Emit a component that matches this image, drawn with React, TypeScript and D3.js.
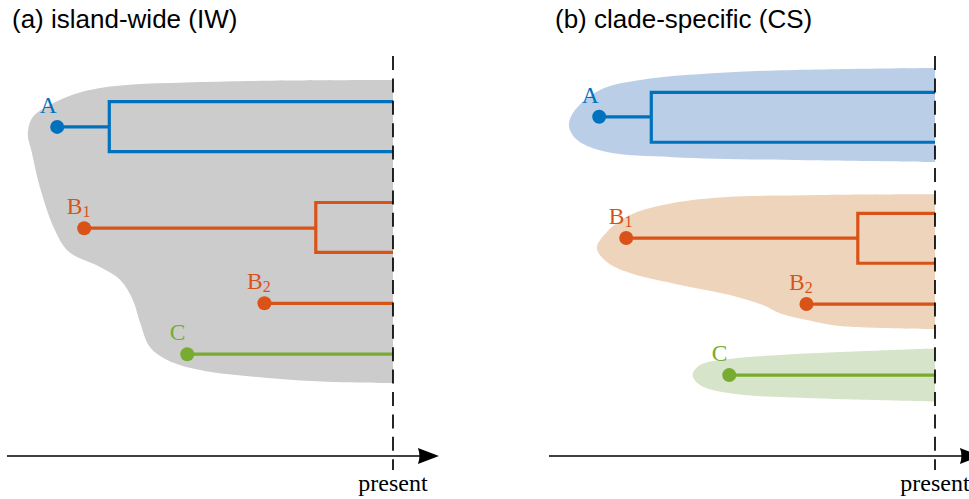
import React from 'react';
import * as d3 from 'd3';

// ---- data ----
const panelTitles = ['(a) island-wide (IW)', '(b) clade-specific (CS)'];
const presentLabel = 'present';

const lineageNames = ['A', 'B', 'B', 'C'];
const lineageSubs = ['', '1', '2', ''];
const lineageColors = ['#0072BD', '#D95319', '#D95319', '#77AC30'];
const colonisationAge = [8.7, 8.0, 3.33, 5.33];
const splitAge = [7.35, 2.0, NaN, NaN];

const stemLaneIW = [1, 5.02, 8.0, 10.02];
const tipLanesIW = [[0, 1.98], [4.0, 5.98], [], []];
const stemLaneCS = [0.6, 5.41, 8.03, 10.85];
const tipLanesCS = [[-0.37, 1.61], [4.43, 6.41], [], []];

// outlines as [age, lane]
const islandOutline: [number, number][] = [
  [0, -0.86], [5.0, -0.78], [7.59, -0.54], [8.63, -0.07], [9.33, 0.61], [9.46, 1.3],
  [9.36, 2.0], [9.15, 3.38], [8.76, 5.09], [8.4, 5.95], [7.59, 6.56],
  [7.07, 7.07], [6.74, 7.87], [6.55, 8.78], [6.3, 9.73], [5.85, 10.25], [5.0, 10.65],
  [3.26, 10.96], [1.55, 11.12], [0, 11.16],
];
const cladeOutlineA: [number, number][] = [
  [0, -1.34], [5.05, -1.19], [7.64, -0.86], [8.68, -0.46], [9.38, 0.45], [9.48, 1.0],
  [9.27, 1.52], [8.5, 2.0], [6.79, 2.2], [3.32, 2.32], [0, 2.39],
];
const cladeOutlineB: [number, number][] = [
  [0, 3.67], [2.98, 3.7], [5.75, 3.82], [7.05, 4.1], [7.9, 4.5], [8.5, 5.17], [8.76, 5.81],
  [8.5, 6.36], [7.9, 6.8], [6.61, 7.27], [5.31, 7.67], [4.46, 8.07], [4.02, 8.39],
  [3.32, 8.66], [2.46, 8.9], [0, 9.02],
];
const cladeOutlineC: [number, number][] = [
  [0, 9.79], [2.28, 9.92], [4.02, 10.05], [5.31, 10.21], [6.09, 10.45], [6.28, 10.85],
  [6.09, 11.24], [5.31, 11.57], [3.16, 11.77], [0, 11.9],
];
const islandFill = '#cccccc';
const cladeFills = ['#bacfe7', '#eed4bb', '#d6e4c9'];

// ---- layout ----
const W = 969;
const H = 499;
const panelLeft = [7, 549];
const panelRight = [393, 935];
const axisY = 456;

const yScale = d3.scaleLinear().domain([0, 10]).range([101.7, 353.7]);

function Panel({ idx }: { idx: number }) {
  const x = d3.scaleLinear().domain([10, 0]).range([panelLeft[idx], panelRight[idx]]);
  const stemLane = idx === 0 ? stemLaneIW : stemLaneCS;
  const tipLanes = idx === 0 ? tipLanesIW : tipLanesCS;
  const line = d3
    .line<[number, number]>()
    .x((d) => x(d[0]))
    .y((d) => yScale(d[1]))
    .curve(d3.curveCatmullRom.alpha(0.5));
  const blobs =
    idx === 0
      ? [{ pts: islandOutline, fill: islandFill }]
      : [
          { pts: cladeOutlineA, fill: cladeFills[0] },
          { pts: cladeOutlineB, fill: cladeFills[1] },
          { pts: cladeOutlineC, fill: cladeFills[2] },
        ];
  const px = x(0);
  const arrowTip = x(-1.19);
  return (
    <g>
      {blobs.map((b, i) => (
        <path key={i} d={(line(b.pts) as string) + 'Z'} fill={b.fill} stroke="none" />
      ))}
      {colonisationAge.map((age, i) => {
        const c = lineageColors[i];
        const sy = yScale(stemLane[i]);
        const hasSplit = !isNaN(splitAge[i]);
        const sx = hasSplit ? x(splitAge[i]) : px;
        return (
          <g key={i}>
            <path d={`M${x(age)},${sy}H${sx}`} stroke={c} strokeWidth={3.2} fill="none" />
            {hasSplit && (
              <path
                d={`M${px},${yScale(tipLanes[i][0])}H${sx}V${yScale(tipLanes[i][1])}H${px}`}
                stroke={c}
                strokeWidth={3.2}
                fill="none"
                strokeLinejoin="miter"
              />
            )}
            <circle cx={x(age)} cy={sy} r={7} fill={c} />
            <text
              x={x(age) - 17.5}
              y={sy - 14}
              fill={c}
              fontFamily="'Liberation Serif', serif"
              fontSize={23.5}
            >
              {lineageNames[i]}
              {lineageSubs[i] && (
                <tspan fontSize={16} dy={3}>
                  {lineageSubs[i]}
                </tspan>
              )}
            </text>
          </g>
        );
      })}
      <line x1={px} x2={px} y1={56} y2={470} stroke="#000" strokeWidth={1.7} strokeDasharray="14,8.4" />
      <line x1={panelLeft[idx]} x2={arrowTip - 8} y1={axisY} y2={axisY} stroke="#000" strokeWidth={1.6} />
      <path
        d={`M${arrowTip},${axisY}L${arrowTip - 21},${axisY - 8}Q${arrowTip - 18},${axisY} ${arrowTip - 21},${axisY + 8}Z`}
        fill="#000"
      />
      <text
        x={px}
        y={490.5}
        textAnchor="middle"
        fontFamily="'Liberation Serif', serif"
        fontSize={24}
        fill="#000"
      >
        {presentLabel}
      </text>
      <text
        x={idx === 0 ? 12 : 555}
        y={28}
        fontFamily="'Liberation Sans', Arial, sans-serif"
        fontSize={26}
        fill="#000"
      >
        {panelTitles[idx]}
      </text>
    </g>
  );
}

export default function App() {
  return (
    <svg
      width={W}
      height={H}
      viewBox={`0 0 ${W} ${H}`}
      style={{ position: 'absolute', left: 0, top: 0, background: '#fff' }}
    >
      <rect width={W} height={H} fill="#fff" />
      <Panel idx={0} />
      <Panel idx={1} />
    </svg>
  );
}
